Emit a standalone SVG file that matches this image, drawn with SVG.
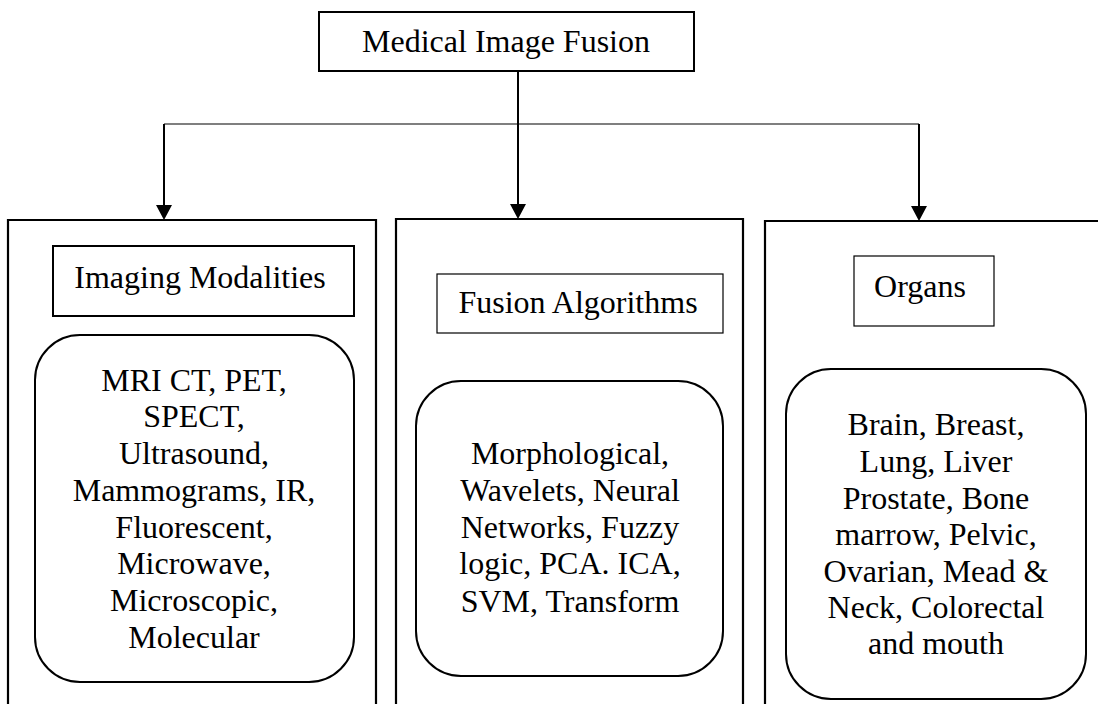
<svg xmlns="http://www.w3.org/2000/svg" width="1098" height="704" viewBox="0 0 1098 704">
<style>
text{font-size:32px;fill:#000;text-anchor:middle}
.box{fill:#fff;stroke:#000;stroke-width:2}
.thin{fill:#fff;stroke:#000;stroke-width:1.2}
.col{fill:none;stroke:#000;stroke-width:2.2}
.conn{fill:none;stroke:#000;stroke-width:2}
.hline{fill:none;stroke:#000;stroke-width:1.2}
</style>
<defs>
<marker id="arrow" markerUnits="userSpaceOnUse" markerWidth="16" markerHeight="16" refX="13" refY="8" orient="auto">
<path d="M0,0 L15,8 L0,16 Z" fill="#000"/>
</marker>
</defs>
<rect width="1098" height="704" fill="#fff"/>
<g font-family="Liberation Serif, Times New Roman, DejaVu Serif, serif">

<g id="connectors">
<line class="hline" x1="164" y1="124" x2="919" y2="124"/>
<line class="conn" x1="518" y1="71" x2="518" y2="217" marker-end="url(#arrow)"/>
<line class="conn" x1="164" y1="124" x2="164" y2="218" marker-end="url(#arrow)"/>
<line class="conn" x1="919" y1="124" x2="919" y2="219" marker-end="url(#arrow)"/>
</g>

<g id="root">
<rect class="box" x="319" y="12" width="375" height="59"/>
<text x="506" y="52">Medical Image Fusion</text>
</g>

<g id="col-imaging">
<path class="col" d="M8,720 V220 H376 V720"/>
<g id="imaging-title">
<rect class="box" x="53" y="246" width="301" height="70"/>
<text x="200" y="288">Imaging Modalities</text>
</g>
<g id="imaging-list">
<rect class="box" x="35" y="335" width="319" height="347" rx="45" ry="45"/>
<text x="194" y="391">MRI CT, PET,</text>
<text x="194" y="427">SPECT,</text>
<text x="194" y="464">Ultrasound,</text>
<text x="194" y="501">Mammograms, IR,</text>
<text x="194" y="538">Fluorescent,</text>
<text x="194" y="574">Microwave,</text>
<text x="194" y="611">Microscopic,</text>
<text x="194" y="648">Molecular</text>
</g>
</g>

<g id="col-algorithms">
<path class="col" d="M396,720 V219 H743 V720"/>
<g id="algorithms-title">
<rect class="thin" x="437" y="274" width="286" height="59"/>
<text x="578" y="313">Fusion Algorithms</text>
</g>
<g id="algorithms-list">
<rect class="box" x="416" y="381" width="307" height="295" rx="45" ry="45"/>
<text x="570" y="464">Morphological,</text>
<text x="570" y="501">Wavelets, Neural</text>
<text x="570" y="538">Networks, Fuzzy</text>
<text x="570" y="574">logic, PCA. ICA,</text>
<text x="570" y="612">SVM, Transform</text>
</g>
</g>

<g id="col-organs">
<path class="col" d="M765,720 V221 H1110"/>
<g id="organs-title">
<rect class="thin" x="854" y="256" width="140" height="70"/>
<text x="920" y="297">Organs</text>
</g>
<g id="organs-list">
<rect class="box" x="786" y="369" width="300" height="330" rx="45" ry="45"/>
<text x="936" y="435">Brain, Breast,</text>
<text x="936" y="472">Lung, Liver</text>
<text x="936" y="509">Prostate, Bone</text>
<text x="936" y="545">marrow, Pelvic,</text>
<text x="936" y="582">Ovarian, Mead &amp;</text>
<text x="936" y="618">Neck, Colorectal</text>
<text x="936" y="654">and mouth</text>
</g>
</g>
</g>
</svg>
